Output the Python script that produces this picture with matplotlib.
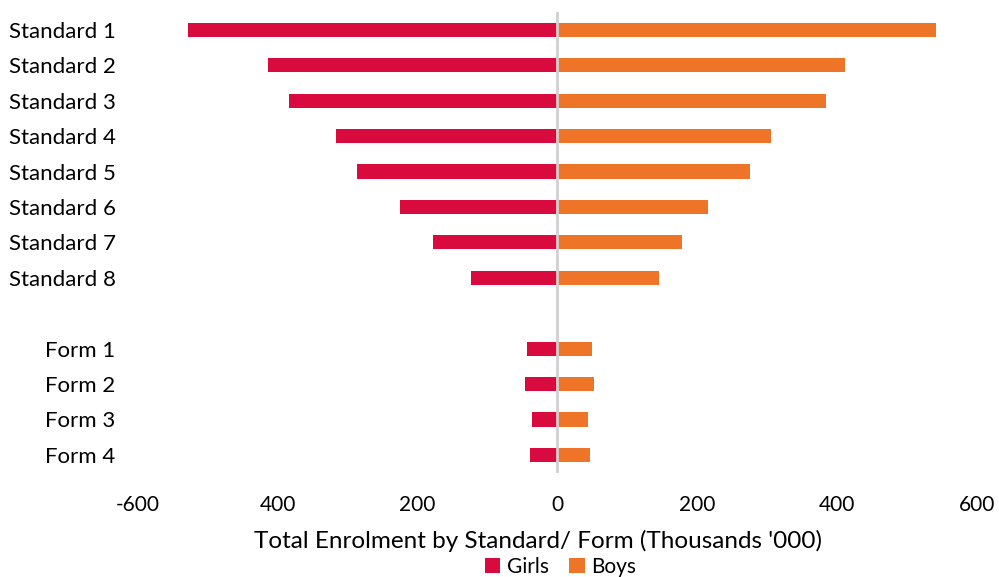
import numpy as np
import matplotlib.pyplot as plt

categories = ['Standard 1', 'Standard 2', 'Standard 3', 'Standard 4', 'Standard 5',
              'Standard 6', 'Standard 7', 'Standard 8', '',
              'Form 1', 'Form 2', 'Form 3', 'Form 4']
girls = [529, 414, 384, 317, 287, 225, 178, 123, np.nan, 43, 46, 36, 39]
boys = [542, 411, 384, 305, 275, 216, 178, 145, np.nan, 49, 52, 44, 47]
xticks = [-600, -400, -200, 0, 200, 400, 600]
xtick_labels = ['-600', '400', '200', '0', '200', '400', '600']

plt.rcParams['font.family'] = ['Lato', 'DejaVu Sans']

fig = plt.figure(figsize=(9.99, 5.77), dpi=100)
ax = fig.add_axes([0.138, 0.181, 0.840, 0.798])

y = np.arange(len(categories))
ax.barh(y, -np.array(girls), height=0.4, color='#D90A3E', label='Girls')
ax.barh(y, boys, height=0.4, color='#EE7428', label='Boys')
ax.axvline(0, color='#D0D0D0', lw=2, zorder=3)

ax.set_xlim(-600, 600)
ax.set_ylim(12.5, -0.5)
ax.set_yticks(y)
ax.set_yticklabels(categories, fontsize=16)
ax.set_xticks(xticks)
ax.set_xticklabels(xtick_labels, fontsize=15)
ax.tick_params(axis='both', length=0)
ax.tick_params(axis='y', pad=16)
ax.tick_params(axis='x', pad=16)
for s in ax.spines.values():
    s.set_visible(False)

# axis title sits a little left of the axes centre in the original
fig.text(0.5385, 0.062, "Total Enrolment by Standard/ Form (Thousands '000)",
         fontsize=17.5, ha='center', va='center')
fig.legend(loc='center', bbox_to_anchor=(0.561, 0.018),
           ncol=2, frameon=False, fontsize=15, handlelength=0.75, handleheight=0.75,
           handletextpad=0.3, columnspacing=1.0, borderpad=0)

fig.savefig('out.png', dpi=100)
